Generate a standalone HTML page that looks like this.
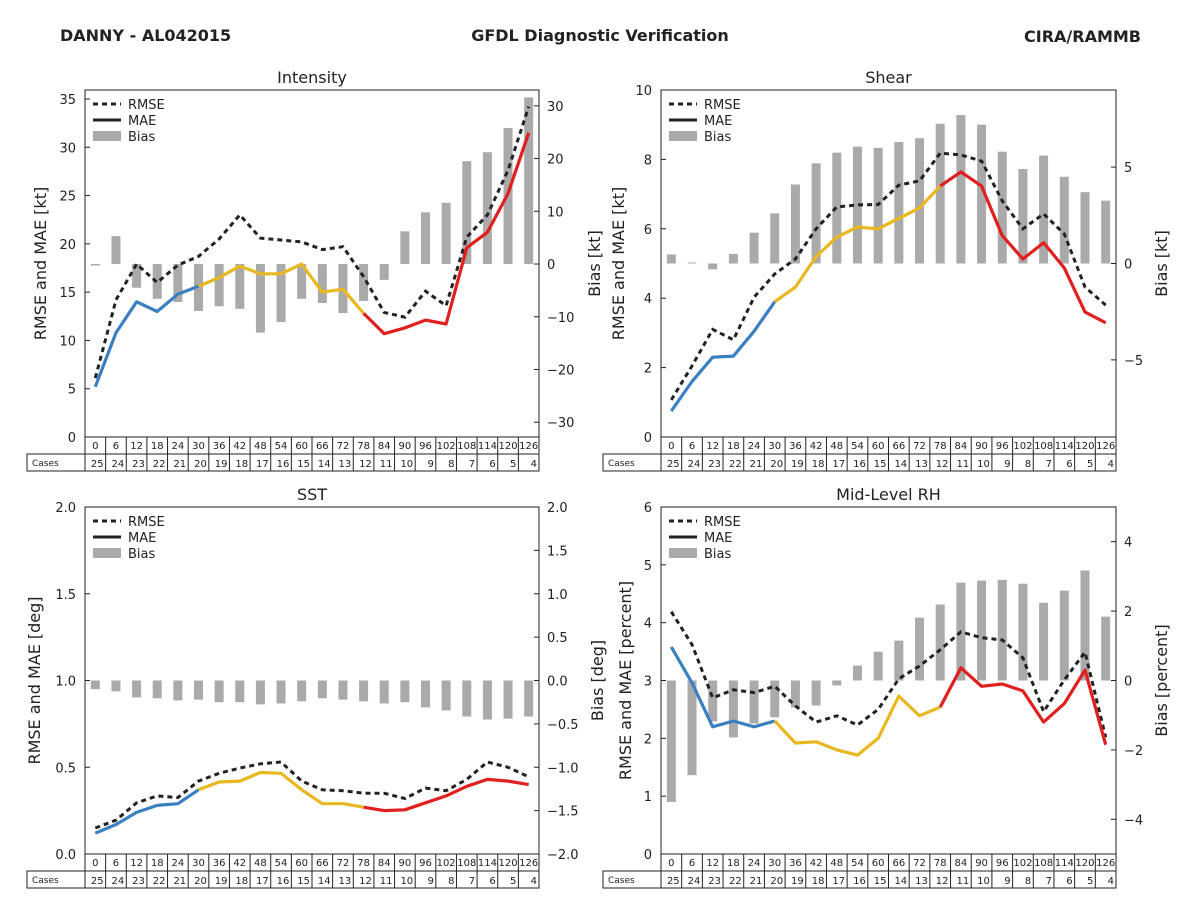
<!DOCTYPE html>
<html><head><meta charset="utf-8"><style>
body{margin:0;background:#fff;font-family:"Liberation Sans","DejaVu Sans",sans-serif;}
svg text{font-family:"DejaVu Sans","Liberation Sans",sans-serif;}
</style></head><body>
<svg id="chart" width="1200" height="900" xmlns="http://www.w3.org/2000/svg">
<rect width="1200" height="900" fill="#fff"/>
<text x="60" y="41" font-size="16" font-weight="bold" fill="#222">DANNY - AL042015</text>
<text x="600" y="41" font-size="16" font-weight="bold" fill="#222" text-anchor="middle">GFDL Diagnostic Verification</text>
<text x="1141" y="42" font-size="16" font-weight="bold" fill="#222" text-anchor="end">CIRA/RAMMB</text>
</svg>
<script>
const categories=[0,6,12,18,24,30,36,42,48,54,60,66,72,78,84,90,96,102,108,114,120,126];
const cases=[25,24,23,22,21,20,19,18,17,16,15,14,13,12,11,10,9,8,7,6,5,4];
const intMAE=[5.2,10.8,14,13,14.8,15.6,16.5,17.7,16.9,16.9,17.9,15,15.3,12.8,10.7,11.3,12.1,11.7,19.6,21.2,25.2,31.5];
const intRMSE=[6.1,14.2,17.9,16,17.8,18.7,20.5,23,20.6,20.4,20.2,19.4,19.7,16.6,12.9,12.4,15.1,13.6,20.7,23,27.6,34.2];
const intBias=[-0.3,5.3,-4.5,-6.6,-7.2,-8.9,-8,-8.5,-13,-11,-6.6,-7.4,-9.3,-7,-3,6.2,9.8,11.6,19.5,21.2,25.8,31.6];
const shrMAE=[0.75,1.6,2.3,2.33,3.05,3.9,4.32,5.2,5.76,6.05,6.0,6.3,6.6,7.23,7.64,7.23,5.8,5.13,5.6,4.87,3.6,3.29];
const shrRMSE=[1.07,2.05,3.1,2.8,4.03,4.7,5.13,6.0,6.63,6.69,6.7,7.26,7.38,8.18,8.13,7.95,6.8,6.0,6.43,5.85,4.32,3.8];
const shrBias=[0.47,0.05,-0.3,0.5,1.6,2.6,4.1,5.2,5.75,6.06,6.0,6.3,6.5,7.25,7.7,7.2,5.8,4.9,5.6,4.5,3.7,3.26];
const sstMAE=[0.12,0.17,0.24,0.28,0.29,0.37,0.415,0.42,0.47,0.465,0.37,0.29,0.29,0.27,0.25,0.255,0.295,0.335,0.39,0.43,0.42,0.4];
const sstRMSE=[0.15,0.195,0.295,0.335,0.325,0.42,0.465,0.495,0.52,0.53,0.42,0.37,0.365,0.35,0.35,0.32,0.38,0.365,0.43,0.53,0.5,0.445];
const sstBias=[-0.1,-0.125,-0.195,-0.205,-0.23,-0.22,-0.25,-0.25,-0.275,-0.265,-0.24,-0.205,-0.22,-0.24,-0.265,-0.25,-0.31,-0.345,-0.415,-0.45,-0.44,-0.415];
const rhMAE=[3.58,2.96,2.2,2.3,2.2,2.3,1.92,1.94,1.8,1.71,2.0,2.73,2.39,2.54,3.22,2.9,2.94,2.82,2.28,2.6,3.18,1.89];
const rhRMSE=[4.19,3.62,2.7,2.84,2.79,2.9,2.56,2.28,2.39,2.23,2.5,3.03,3.25,3.53,3.84,3.74,3.7,3.39,2.46,3.01,3.49,2.02];
const rhBias=[-3.5,-2.73,-1.18,-1.64,-1.24,-1.06,-0.78,-0.72,-0.14,0.43,0.83,1.15,1.81,2.19,2.82,2.88,2.9,2.79,2.24,2.59,3.17,1.84];
const intLeftTicks=[0,5,10,15,20,25,30,35];
const intRightTicks=[-30,-20,-10,0,10,20,30];
const shrLeftTicks=[0,2,4,6,8,10];
const shrRightTicks=[-5,0,5];
const sstLeftTicks=[0,0.5,1.0,1.5,2.0];
const sstRightTicks=[-2.0,-1.5,-1.0,-0.5,0.0,0.5,1.0,1.5,2.0];
const rhLeftTicks=[0,1,2,3,4,5,6];
const rhRightTicks=[-4,-2,0,2,4];

const NS="http://www.w3.org/2000/svg";
const svg=document.getElementById('chart');
function mk(tag,attrs,parent){const e=document.createElementNS(NS,tag);for(const k in attrs)e.setAttribute(k,attrs[k]);(parent||svg).appendChild(e);return e;}

function panel(p){
  const g=mk('g',{});
  
  
  const n=categories.length, cw=(p.x1-p.x0)/n;
  const xs=i=>p.x0+cw*(i+0.5);
  const yl=v=>p.y1-(v-p.l0)/(p.l1-p.l0)*(p.y1-p.y0);
  const yr=v=>p.y1-(v-p.r0)/(p.r1-p.r0)*(p.y1-p.y0);
  p.bias.forEach((v,i)=>{
    const y0=yr(0),y=yr(v);
    const b=mk('rect',{x:xs(i)-4.5,y:Math.min(y0,y),width:9,height:Math.max(0.8,Math.abs(y-y0)),fill:'#aaaaaa'},g);
    
    
  });
  let d=p.rmse.map((v,i)=>(i?'L':'M')+xs(i).toFixed(1)+','+yl(v).toFixed(1)).join(' ');
  const r=mk('path',{d:d,fill:'none',stroke:'#222',"stroke-width":3,"stroke-dasharray":"5,4"},g);
  
  
  [[0,5,'#3a80c0'],[5,13,'#e8b820'],[13,21,'#e0201e']].forEach(s=>{
    let dd='';for(let i=s[0];i<=s[1];i++)dd+=(i==s[0]?'M':'L')+xs(i).toFixed(1)+','+yl(p.mae[i]).toFixed(1)+' ';
    const m=mk('path',{d:dd,fill:'none',stroke:s[2],"stroke-width":3.2,"stroke-linejoin":"round"},g);
    
    
  });
  mk('rect',{x:p.x0,y:p.y0,width:p.x1-p.x0,height:p.y1-p.y0,fill:'none',stroke:'#222',"stroke-width":1},g);
  p.lt.forEach(v=>{const y=yl(v);mk('line',{x1:p.x0,x2:p.x0+5,y1:y,y2:y,stroke:'#222'},g);
    const t=mk('text',{x:p.x0-9,y:y+5,"font-size":13,"text-anchor":"end",fill:'#222'},g);t.textContent=p.lfmt?v.toFixed(1):v;
    });
  p.rt.forEach(v=>{const y=yr(v);mk('line',{x1:p.x1-5,x2:p.x1,y1:y,y2:y,stroke:'#222'},g);
    const t=mk('text',{x:p.x1+8,y:y+5,"font-size":13,fill:'#222'},g);t.textContent=(p.rfmt?v.toFixed(1):String(v)).replace('-','\u2212');
    });
  let t=mk('text',{x:(p.x0+p.x1)/2,y:p.y0-7,"font-size":16,"text-anchor":"middle",fill:'#222'},g);t.textContent=p.title;
  
  const cy=(p.y0+p.y1)/2;
  t=mk('text',{x:p.lx,y:cy,"font-size":16,"text-anchor":"middle",fill:'#222',transform:`rotate(-90 ${p.lx} ${cy})`},g);t.textContent=p.ylab;
  
  t=mk('text',{x:p.rx,y:cy,"font-size":16,"text-anchor":"middle",fill:'#222',transform:`rotate(-90 ${p.rx} ${cy})`},g);t.textContent=p.rlab;
  
  const lg=mk('g',{},g);
  const lx=p.x0+8,ly=p.y0+14;
  mk('line',{x1:lx,x2:lx+28,y1:ly,y2:ly,stroke:'#222',"stroke-width":3,"stroke-dasharray":"5,4"},lg);
  mk('line',{x1:lx,x2:lx+28,y1:ly+16,y2:ly+16,stroke:'#222',"stroke-width":3},lg);
  mk('rect',{x:lx,y:ly+27,width:28,height:10,fill:'#aaa'},lg);
  ['RMSE','MAE','Bias'].forEach((s,i)=>{const tt=mk('text',{x:lx+35,y:ly+5+16*i,"font-size":13,fill:'#222'},lg);tt.textContent=s;});
  const tb=mk('g',{},g);
  const ty=p.y1,rh=17;
  mk('rect',{x:p.x0,y:ty,width:p.x1-p.x0,height:rh,fill:'none',stroke:'#222'},tb);
  mk('rect',{x:p.x0-58,y:ty+rh,width:p.x1-p.x0+58,height:rh,fill:'none',stroke:'#222'},tb);
  mk('line',{x1:p.x0,x2:p.x0,y1:ty,y2:ty+2*rh,stroke:'#222'},tb);
  let tt=mk('text',{x:p.x0-53,y:ty+rh+12,"font-size":9,fill:'#222'},tb);tt.textContent='Cases';
  categories.forEach((c,i)=>{
    const xa=p.x0+cw*(i+1);
    if(i<n-1)mk('line',{x1:xa,x2:xa,y1:ty,y2:ty+2*rh,stroke:'#222'},tb);
    let a=mk('text',{x:xs(i),y:ty+12,"font-size":10,"text-anchor":"middle",fill:'#222'},tb);a.textContent=c;
    a=mk('text',{x:xa-2,y:ty+rh+13,"font-size":10,"text-anchor":"end",fill:'#222'},tb);a.textContent=cases[i];
  });
}
panel({name:'intensity',title:'Intensity',x0:85,x1:539,y0:90,y1:437,l0:0,l1:35.93,r0:-32.8,r1:33,mae:intMAE,rmse:intRMSE,bias:intBias,lt:intLeftTicks,rt:intRightTicks,ylab:'RMSE and MAE [kt]',rlab:'Bias [kt]',lx:46,rx:600});
panel({name:'shear',title:'Shear',x0:661,x1:1116,y0:90,y1:437,l0:0,l1:10,r0:-9,r1:9,mae:shrMAE,rmse:shrRMSE,bias:shrBias,lt:shrLeftTicks,rt:shrRightTicks,ylab:'RMSE and MAE [kt]',rlab:'Bias [kt]',lx:624,rx:1167});
panel({name:'sst',title:'SST',x0:85,x1:539,y0:507,y1:854,l0:0,l1:2,r0:-2,r1:2,mae:sstMAE,rmse:sstRMSE,bias:sstBias,lt:sstLeftTicks,rt:sstRightTicks,lfmt:1,rfmt:1,ylab:'RMSE and MAE [deg]',rlab:'Bias [deg]',lx:40,rx:603});
panel({name:'mid-level-rh',title:'Mid-Level RH',x0:661,x1:1116,y0:507,y1:854,l0:0,l1:6,r0:-5,r1:5,mae:rhMAE,rmse:rhRMSE,bias:rhBias,lt:rhLeftTicks,rt:rhRightTicks,ylab:'RMSE and MAE [percent]',rlab:'Bias [percent]',lx:631,rx:1167});
</script>
</body></html>
